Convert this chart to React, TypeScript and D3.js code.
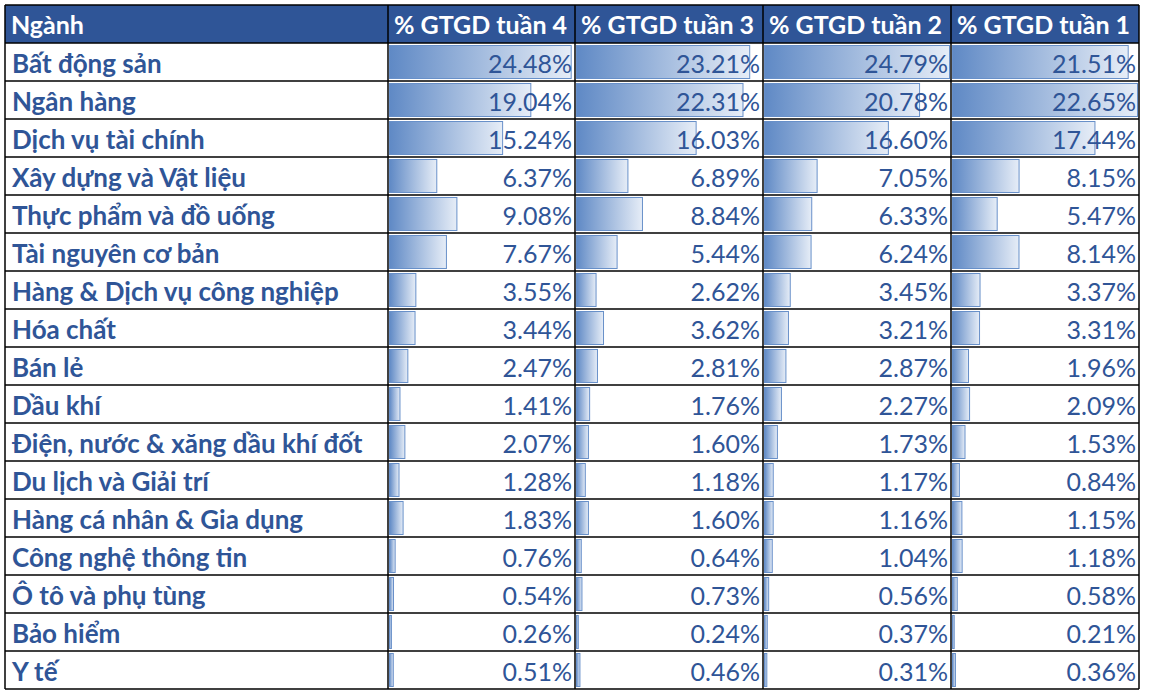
import React from "react";
import * as d3 from "d3";

const sectors = [
  "Bất động sản",
  "Ngân hàng",
  "Dịch vụ tài chính",
  "Xây dựng và Vật liệu",
  "Thực phẩm và đồ uống",
  "Tài nguyên cơ bản",
  "Hàng & Dịch vụ công nghiệp",
  "Hóa chất",
  "Bán lẻ",
  "Dầu khí",
  "Điện, nước & xăng dầu khí đốt",
  "Du lịch và Giải trí",
  "Hàng cá nhân & Gia dụng",
  "Công nghệ thông tin",
  "Ô tô và phụ tùng",
  "Bảo hiểm",
  "Y tế",
];
const headers = ["Ngành", "% GTGD tuần 4", "% GTGD tuần 3", "% GTGD tuần 2", "% GTGD tuần 1"];
const week4 = [24.48, 19.04, 15.24, 6.37, 9.08, 7.67, 3.55, 3.44, 2.47, 1.41, 2.07, 1.28, 1.83, 0.76, 0.54, 0.26, 0.51];
const week3 = [23.21, 22.31, 16.03, 6.89, 8.84, 5.44, 2.62, 3.62, 2.81, 1.76, 1.6, 1.18, 1.6, 0.64, 0.73, 0.24, 0.46];
const week2 = [24.79, 20.78, 16.6, 7.05, 6.33, 6.24, 3.45, 3.21, 2.87, 2.27, 1.73, 1.17, 1.16, 1.04, 0.56, 0.37, 0.31];
const week1 = [21.51, 22.65, 17.44, 8.15, 5.47, 8.14, 3.37, 3.31, 1.96, 2.09, 1.53, 0.84, 1.15, 1.18, 0.58, 0.21, 0.36];

const W = 1149;
const H = 698;
const colEdges = [5, 388, 575, 763, 951, 1139];
const top = 5;
const rowH = 38;
const blue = "#2F5597";
const barColor = "#6890C9";

export default function App() {
  const series = [week4, week3, week2, week1];
  // Data bar rule: weeks 4–2 share one scale, week 1 has its own
  const sharedMax = d3.max([...week4, ...week3, ...week2]) as number;
  const w1Max = d3.max(week1) as number;
  const scales = series.map((_, i) => {
    const left = colEdges[i + 1];
    const right = colEdges[i + 2];
    return d3
      .scaleLinear()
      .domain([0, i < 3 ? sharedMax : w1Max])
      .range([0, right - left - 3]);
  });
  const y = d3
    .scaleBand<number>()
    .domain(d3.range(sectors.length + 1))
    .range([top, top + rowH * (sectors.length + 1)]);
  const fmt = d3.format(".2f");
  const font = "Lato, 'Open Sans', sans-serif";

  return (
    <svg width={W} height={H} style={{ position: "absolute", left: 0, top: 0, background: "#fff" }}>
      <defs>
        <linearGradient id="barGrad" x1="0" x2="1" y1="0" y2="0">
          <stop offset="0" stopColor="#5F89C5" />
          <stop offset="1" stopColor="#E6EDF7" />
        </linearGradient>
      </defs>
      <rect x={colEdges[0]} y={top} width={colEdges[5] - colEdges[0]} height={rowH} fill={blue} />
      {headers.map((h, i) => (
        <text
          key={h}
          x={colEdges[i] + 6}
          y={(y(0) as number) + 29}
          fill="#fff"
          fontFamily={font}
          fontWeight={700}
          fontSize={25}
        >
          {h}
        </text>
      ))}
      {sectors.map((s, r) => {
        const ry = y(r + 1) as number;
        return (
          <g key={s}>
            <text x={colEdges[0] + 7} y={ry + 29.5} fill={blue} fontFamily={font} fontWeight={700} fontSize={26}>
              {s}
            </text>
            {series.map((vals, c) => {
              const left = colEdges[c + 1];
              const right = colEdges[c + 2];
              const v = vals[r];
              return (
                <g key={c}>
                  <rect
                    x={left + 1.5}
                    y={ry + 2.5}
                    width={scales[c](v)}
                    height={rowH - 5}
                    fill="url(#barGrad)"
                    stroke={barColor}
                    strokeWidth={1}
                  />
                  <text
                    x={right - 3}
                    y={ry + 29.5}
                    textAnchor="end"
                    fill={blue}
                    fontFamily={font}
                    fontSize={25}
                  >
                    {fmt(v) + "%"}
                  </text>
                </g>
              );
            })}
          </g>
        );
      })}
      {d3.range(sectors.length + 2).map((i) => (
        <line
          key={"h" + i}
          x1={colEdges[0]}
          x2={colEdges[5]}
          y1={top + i * rowH}
          y2={top + i * rowH}
          stroke="#000"
          strokeWidth={1.5}
        />
      ))}
      {colEdges.map((x, i) => (
        <line
          key={"v" + i}
          x1={x}
          x2={x}
          y1={top}
          y2={top + rowH * (sectors.length + 1)}
          stroke="#000"
          strokeWidth={1.5}
        />
      ))}
    </svg>
  );
}
